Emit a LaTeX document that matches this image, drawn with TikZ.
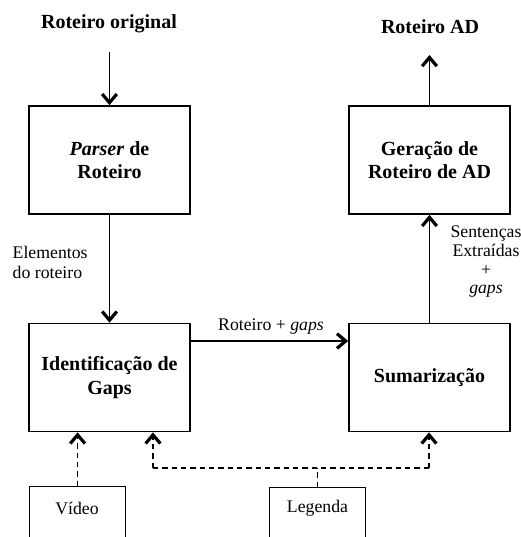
\documentclass[tikz,border=0pt]{standalone}
\usepackage{fontspec}
\setmainfont{Liberation Serif}
\usetikzlibrary{arrows.meta}
\begin{document}
\begin{tikzpicture}[x=0.75pt,y=-0.75pt,
  proc/.style={draw,line width=1.3pt,minimum width=120.75pt,minimum height=81pt,align=center,inner sep=0pt,font=\fontsize{15pt}{17.5pt}\selectfont\bfseries},
  src/.style={draw,line width=0.9pt,minimum width=72pt,minimum height=60pt,anchor=north west,inner sep=0pt},
  plain/.style={font=\fontsize{13.3pt}{15pt}\selectfont},
  title/.style={font=\fontsize{15pt}{17.5pt}\selectfont\bfseries},
  arr/.style={line width=1.1pt,-{Straight Barb[length=6.5pt,width=11pt,line width=2.4pt]}},
  darr/.style={line width=1pt,dash pattern=on 4pt off 3pt,-{Straight Barb[length=6.5pt,width=11pt,line width=2.4pt]}},
  dline/.style={line width=1pt,dash pattern=on 4pt off 3pt}]
\useasboundingbox (0,0) rectangle (521,537);
\clip (0,0) rectangle (521,537);
\node[proc] (parser) at (109.5,160) {\textit{Parser} de\\Roteiro};
\node[proc] (gerar) at (429.5,160) {Geração de\\Roteiro de AD};
\node[proc] (ident) at (109.5,377.5) {Identificação de\\Gaps};
\node[proc] (sum) at (429.5,377.5) {Sumarização};
\node[title] (orig) at (109,24) {Roteiro original};
\node[title] (ad) at (430,27) {Roteiro AD};
\coordinate (origend) at (109.5,52);
\coordinate (adend) at (429.5,55);
\draw[arr] (origend) -- (parser.north);
\draw[arr] (gerar.north) -- (adend);
\draw[arr] (parser.south) -- (ident.north);
\node[plain,align=left,anchor=west] (elem) at (8,262) {Elementos\\do roteiro};
\draw[arr] (ident.east |- 0,341) -- (sum.west |- 0,341);
\node[plain] (rg) at (271,327) {Roteiro + \textit{gaps}};
\draw[arr] (sum.north) -- (gerar.south);
\node[plain,align=center] (sent) at (486,262) {Sentenças\\[-1pt]Extraídas\\[-1pt]+\\[-1pt]\textit{gaps}};
\node[src] (video) at (29,486) {};
\node[plain] (videotxt) at (77,508) {Vídeo};
\node[src] (leg) at (269,487) {};
\node[plain] (legtxt) at (317.5,508) {Legenda};
\draw[darr] (video.north) -- (video.north |- ident.south);
\coordinate (jl) at (153,468);
\coordinate (jr) at (429,468);
\coordinate (jm) at (leg.north |- jl);
\draw[dline] (leg.north) -- (jm);
\draw[dline] (jl) -- (jr);
\draw[darr] (jl) -- (jl |- ident.south);
\draw[darr] (jr) -- (jr |- sum.south);
\end{tikzpicture}
\end{document}
